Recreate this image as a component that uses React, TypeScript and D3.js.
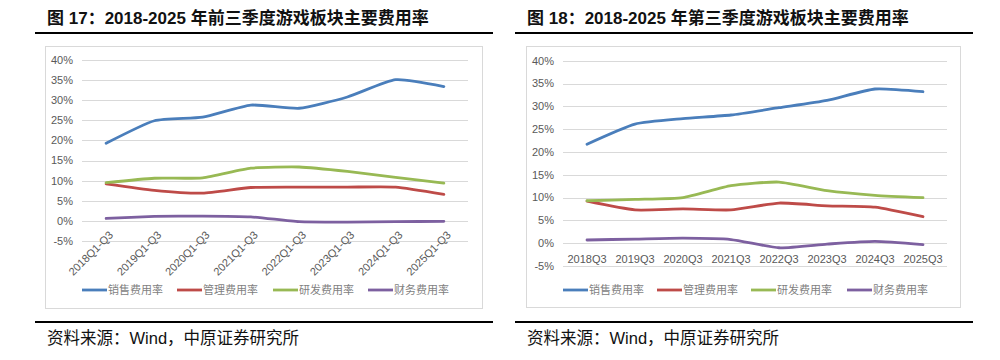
import { useEffect, useRef } from 'react';
import * as d3 from 'd3';

const seriesNames = ['销售费用率', '管理费用率', '研发费用率', '财务费用率'];
const seriesColors = ['#4A7EBB', '#BE4B48', '#98B954', '#7D60A0'];
const yTicks = [-5, 0, 5, 10, 15, 20, 25, 30, 35, 40];

// 图17: 前三季度
const ytdCategories = ['2018Q1-Q3', '2019Q1-Q3', '2020Q1-Q3', '2021Q1-Q3', '2022Q1-Q3', '2023Q1-Q3', '2024Q1-Q3', '2025Q1-Q3'];
const ytdSales = [19.3, 24.9, 25.8, 28.8, 28.0, 30.8, 35.1, 33.4];
const ytdAdmin = [9.2, 7.6, 6.9, 8.3, 8.4, 8.4, 8.4, 6.6];
const ytdRnd = [9.5, 10.6, 10.7, 13.1, 13.4, 12.3, 10.8, 9.4];
const ytdFinance = [0.6, 1.1, 1.2, 1.0, -0.2, -0.3, -0.2, -0.1];

// 图18: 第三季度
const q3Categories = ['2018Q3', '2019Q3', '2020Q3', '2021Q3', '2022Q3', '2023Q3', '2024Q3', '2025Q3'];
const q3Sales = [21.7, 26.1, 27.3, 28.1, 29.7, 31.3, 33.8, 33.2];
const q3Admin = [9.2, 7.3, 7.5, 7.3, 8.8, 8.2, 7.9, 5.8];
const q3Rnd = [9.3, 9.6, 10.0, 12.6, 13.4, 11.5, 10.5, 10.0];
const q3Finance = [0.7, 0.9, 1.1, 0.8, -1.0, -0.2, 0.4, -0.3];

interface PanelConfig {
  title: string;
  categories: string[];
  series: number[][];
  ruleX: [number, number];
  box: [number, number, number, number]; // x0, y0, x1, y1
  plotX: [number, number];
  plotY: [number, number]; // y of 40%, y of -5%
  rotated: boolean;
  legendX: number[];
}

const panels: PanelConfig[] = [
  {
    title: '图 17：2018-2025 年前三季度游戏板块主要费用率',
    categories: ytdCategories,
    series: [ytdSales, ytdAdmin, ytdRnd, ytdFinance],
    ruleX: [35, 493],
    box: [45.5, 46.5, 482.5, 308.5],
    plotX: [82, 468],
    plotY: [60, 241],
    rotated: true,
    legendX: [82, 177, 273, 368],
  },
  {
    title: '图 18：2018-2025 年第三季度游戏板块主要费用率',
    categories: q3Categories,
    series: [q3Sales, q3Admin, q3Rnd, q3Finance],
    ruleX: [515, 973],
    box: [526.5, 46.5, 960.5, 307.5],
    plotX: [563, 947],
    plotY: [60.7, 266],
    rotated: false,
    legendX: [563, 657, 751, 847],
  },
];

const tickFont = '"Liberation Sans", Arial, sans-serif';
const cjkFont = '"Liberation Sans", "Noto Sans CJK SC", sans-serif';

const App = () => {
  const svgRef = useRef<SVGSVGElement>(null);

  useEffect(() => {
    if (!svgRef.current) return;
    const svg = d3.select(svgRef.current);
    svg.selectAll('*').remove();

    svg.append('rect').attr('width', 1000).attr('height', 360).attr('fill', '#fff');

    panels.forEach((p) => {
      const g = svg.append('g');
      const tx = p.ruleX[0] + 12;

      // Title and rules
      g.append('text')
        .attr('x', tx)
        .attr('y', 24)
        .attr('font-family', cjkFont)
        .attr('font-weight', 'bold')
        .attr('font-size', 17)
        .attr('fill', '#111')
        .text(p.title);
      [33, 322].forEach((y) => {
        g.append('line')
          .attr('x1', p.ruleX[0]).attr('x2', p.ruleX[1])
          .attr('y1', y).attr('y2', y)
          .attr('stroke', '#000').attr('stroke-width', 2.2);
      });
      g.append('text')
        .attr('x', tx)
        .attr('y', 344)
        .attr('font-family', cjkFont)
        .attr('font-size', 16.5)
        .attr('fill', '#111')
        .text('资料来源：Wind，中原证券研究所');

      // Chart box
      const [bx0, by0, bx1, by1] = p.box;
      g.append('rect')
        .attr('x', bx0).attr('y', by0)
        .attr('width', bx1 - bx0).attr('height', by1 - by0)
        .attr('fill', '#fff').attr('stroke', '#d9d9d9');

      const x = d3.scaleBand<string>().domain(p.categories).range(p.plotX);
      const y = d3.scaleLinear().domain([40, -5]).range(p.plotY);
      const cx = (c: string) => (x(c) ?? 0) + x.bandwidth() / 2;

      // Gridlines + y labels
      yTicks.forEach((t) => {
        g.append('line')
          .attr('x1', p.plotX[0]).attr('x2', p.plotX[1])
          .attr('y1', Math.round(y(t)) + 0.5).attr('y2', Math.round(y(t)) + 0.5)
          .attr('stroke', '#d9d9d9').attr('stroke-width', 1);
        g.append('text')
          .attr('x', p.plotX[0] - 9)
          .attr('y', y(t))
          .attr('dy', '0.35em')
          .attr('text-anchor', 'end')
          .attr('font-family', tickFont)
          .attr('font-size', 11)
          .attr('fill', '#595959')
          .text(`${t}%`);
      });

      // X labels
      p.categories.forEach((c) => {
        if (p.rotated) {
          const ax = cx(c) + 5;
          const ay = y(0) + 12;
          g.append('text')
            .attr('transform', `translate(${ax},${ay}) rotate(-45)`)
            .attr('text-anchor', 'end')
            .attr('dy', '0.35em')
            .attr('font-family', tickFont)
            .attr('font-size', 11)
            .attr('fill', '#595959')
            .text(c);
        } else {
          g.append('text')
            .attr('x', cx(c))
            .attr('y', y(0) + 16)
            .attr('dy', '0.35em')
            .attr('text-anchor', 'middle')
            .attr('font-family', tickFont)
            .attr('font-size', 11)
            .attr('fill', '#595959')
            .text(c);
        }
      });

      // Lines
      const line = d3.line<number>()
        .x((_, i) => cx(p.categories[i]))
        .y((d) => y(d))
        .curve(d3.curveCardinal.tension(0.45));
      p.series.forEach((s, i) => {
        g.append('path')
          .attr('d', line(s))
          .attr('fill', 'none')
          .attr('stroke', seriesColors[i])
          .attr('stroke-width', 2.8)
          .attr('stroke-linejoin', 'round')
          .attr('stroke-linecap', 'round');
      });

      // Legend
      seriesNames.forEach((name, i) => {
        const lx = p.legendX[i];
        g.append('line')
          .attr('x1', lx).attr('x2', lx + 25)
          .attr('y1', 290).attr('y2', 290)
          .attr('stroke', seriesColors[i]).attr('stroke-width', 2.8);
        g.append('text')
          .attr('x', lx + 26)
          .attr('y', 290)
          .attr('dy', '0.35em')
          .attr('font-family', '"Noto Sans CJK SC", sans-serif')
          .attr('font-size', 11)
          .attr('fill', '#7f7f7f')
          .text(name);
      });
    });
  }, []);

  return (
    <svg
      ref={svgRef}
      width={1000}
      height={360}
      style={{ position: 'absolute', left: 0, top: 0, display: 'block' }}
    />
  );
};

export default App;
